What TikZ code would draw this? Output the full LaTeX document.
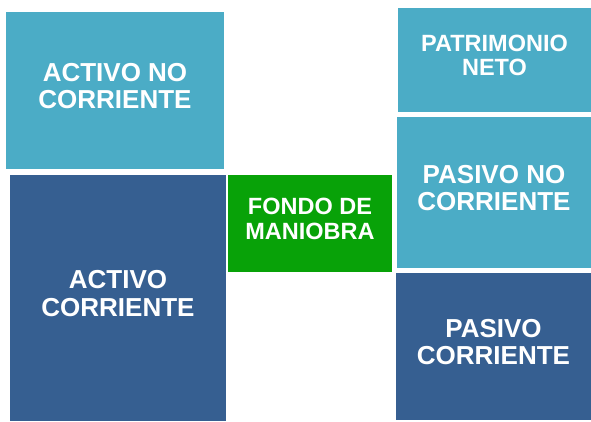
\documentclass[tikz,border=0pt]{standalone}
\usepackage{fontspec}
\setmainfont{Liberation Sans}
\usepackage{xcolor}
\usepackage{tikz}
\definecolor{claro}{RGB}{75,172,198}
\definecolor{oscuro}{RGB}{54,95,145}
\definecolor{verde}{RGB}{8,162,8}
\tikzset{
  caja/.style={anchor=north west, inner sep=0pt, outer sep=0pt, align=center,
    text=white, font=\bfseries\fontsize{26}{27.3}\selectfont, text depth=9pt},
  chica/.style={font=\bfseries\fontsize{23.5}{24.5}\selectfont}
}

\begin{document}
\begin{tikzpicture}[x=1pt,y=-1pt]
\useasboundingbox (0,0) rectangle (591,421);
\node[caja, fill=claro, minimum width=218pt, minimum height=157pt] (anc) at (6,12) {ACTIVO NO\\CORRIENTE};
\node[caja, fill=oscuro, minimum width=216pt, minimum height=246pt] (ac) at (10,175) {ACTIVO\\CORRIENTE};
\node[caja, chica, fill=verde, minimum width=164pt, minimum height=97pt] (fm) at (228,175) {FONDO DE\\MANIOBRA};
\node[caja, chica, fill=claro, minimum width=193pt, minimum height=104pt] (pn) at (398,8) {PATRIMONIO\\NETO};
\node[caja, fill=claro, minimum width=194pt, minimum height=151pt] (pnc) at (397,117) {PASIVO NO\\CORRIENTE};
\node[caja, fill=oscuro, minimum width=195pt, minimum height=147pt] (pc) at (396,273) {PASIVO\\CORRIENTE};
\end{tikzpicture}
\end{document}
